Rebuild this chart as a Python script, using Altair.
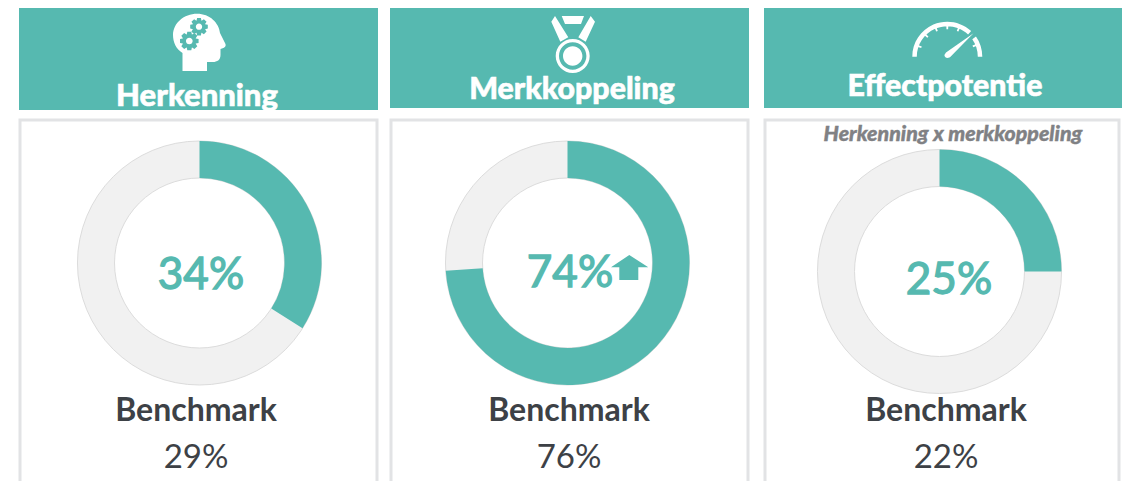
import math
import altair as alt
import pandas as pd

# ---- values ----
titles = ["Herkenning", "Merkkoppeling", "Effectpotentie"]
shares = [34, 74, 25]
share_labels = ["34%", "74%", "25%"]
benchmark_labels = ["29%", "76%", "22%"]
benchmark_word = "Benchmark"
note = "Herkenning x merkkoppeling"

# ---- styles / layout (screen pixels) ----
TEAL = "#56b9b0"
RING = "#f1f1f1"
RING_LINE = "#dcdcdc"
BORDER = "#e2e3e5"
DARK = "#3d4146"
GREY = "#808184"
FONT = "Lato"
M = 8
left = [19, 390, 764]
right = [378, 749, 1122]
card_right = [378, 749, 1120]
head_bottom = [110, 108, 108]
title_x = [197, 572, 945]
title_base = [106, 99, 96]
title_size = [31, 30.3, 30.3]
ring_x = [199.5, 567.5, 939.5]
ring_y = [263, 263, 271.5]
share_x = [201, 570, 949]
share_base = [289, 287, 294]
bench_x = [196, 569, 946]


def px(v):
    return alt.value(v - M)


def circ(cx, cy, r, sweep=1):
    return f"M{cx-r} {cy}A{r} {r} 0 1 {sweep} {cx+r} {cy}A{r} {r} 0 1 {sweep} {cx-r} {cy}Z"


def gear(cx, cy, ro, ri, n=8):
    pts = []
    step = 2 * math.pi / n
    for k in range(n):
        a = k * step
        for da, r in ((-0.30, ri), (-0.17, ro), (0.17, ro), (0.30, ri)):
            pts.append((cx + r * math.cos(a + da * step * 1.6), cy + r * math.sin(a + da * step * 1.6)))
    return "M" + "L".join(f"{x:.2f} {y:.2f}" for x, y in pts) + "Z" + circ(cx, cy, ri * 0.48, 0)


def band(cx, cy, ro, ri, a0, a1):
    p = lambda r, a: (cx + r * math.cos(math.radians(a)), cy - r * math.sin(math.radians(a)))
    x0, y0 = p(ro, a0); x1, y1 = p(ro, a1); x2, y2 = p(ri, a1); x3, y3 = p(ri, a0)
    return (f"M{x0:.2f} {y0:.2f}A{ro} {ro} 0 0 1 {x1:.2f} {y1:.2f}"
            f"L{x2:.2f} {y2:.2f}A{ri} {ri} 0 0 0 {x3:.2f} {y3:.2f}Z")


HEAD = ("M182.5 71L182.5 53C176 49 173 42 173 35C173 23 184 13.7 197 13.7C210 13.7 219 23 220 33"
        "L225.5 44Q226.5 47 222 48.5L220.5 49L220.5 55C220.5 60 217 62 213 62L207 62L207 71Z")
GEARS = gear(199, 26.7, 9, 6.6) + gear(189.3, 41, 9.5, 7)
MEDAL = ("M561.7 16L584 16L581 24L565 24Z"
         "M555 16L551.3 21.7L560.3 41.7L568.3 37.3L555 16Z"
         "M590.7 16L595 21.7L585.7 41.7L578.3 37.3Z"
         + circ(572.7, 56, 17) + circ(572.7, 56, 13.7, 0) + circ(572.7, 56, 9.7))
GAUGE = (band(947.3, 56.7, 35, 30.5, 180, 47) + band(947.3, 56.7, 35, 30.5, 35, 0)
         + "M973.5 33.3L950 57.3Q946 59 944.8 56.6Q944 54.6 946 52.6Z"
         + "".join(band(947.3, 56.7, 31, 27.5, a + 1.8, a - 1.8) for a in (160, 135, 112, 90, 68, 22)))
ARROW = "M629.3 255L648.3 267.3L638.3 267.3L638.3 280L619.3 280L619.3 267.3L611 267.3Z"

THETA = alt.Scale(domain=[0, 100], range=[0, 2 * math.pi])


def text_layer(label, x, y, size, color, weight="normal", style="normal", **kw):
    return (
        alt.Chart(pd.DataFrame({"t": [label]}))
        .mark_text(font=FONT, fontSize=size, fill=color, fontWeight=weight, fontStyle=style,
                   align="center", baseline="alphabetic", **kw)
        .encode(text="t:N", x=px(x), y=px(y))
    )


def box(x0, x1, y0, y1, **mark):
    return (
        alt.Chart(pd.DataFrame({"a": [0]}))
        .mark_rect(**mark)
        .encode(x=px(x0), x2=px(x1), y=px(y0), y2=px(y1))
    )


def icon(path, color="white"):
    return (
        alt.Chart(pd.DataFrame({"a": [0]}))
        .mark_point(shape=path, filled=True, fill=color, opacity=1, size=4, strokeWidth=0)
        .encode(x=alt.value(-M), y=alt.value(-M))
    )


layers = []
for i in range(3):
    # header: title is cut by the lower edge of the first band
    layers.append(box(left[i], right[i], 0, head_bottom[i], fill=TEAL))
    layers.append(text_layer(titles[i], title_x[i], title_base[i], title_size[i], "white", weight=900,
                             stroke="white", strokeWidth=0.6))
    layers.append(box(left[i] - 1, right[i] + 1, head_bottom[i], 117, fill="white"))
    # card
    layers.append(box(left[i] + 1, card_right[i] - 1, 120, 500, fill="white", stroke=BORDER, strokeWidth=3))
    # ring
    ring = pd.DataFrame({"start": [0], "end": [100]})
    fill = pd.DataFrame({"start": [0], "end": [shares[i]]})
    layers.append(
        alt.Chart(ring)
        .mark_arc(radius=122, radius2=85, fill=RING, stroke=RING_LINE, strokeWidth=1)
        .encode(theta=alt.Theta("start:Q", scale=THETA, stack=None), theta2="end:Q",
                x=px(ring_x[i]), y=px(ring_y[i]))
    )
    layers.append(
        alt.Chart(fill)
        .mark_arc(radius=122, radius2=85, fill=TEAL)
        .encode(theta=alt.Theta("start:Q", scale=THETA, stack=None), theta2="end:Q",
                x=px(ring_x[i]), y=px(ring_y[i]))
    )
    layers.append(text_layer(share_labels[i], share_x[i], share_base[i], 44, TEAL,
                             stroke=TEAL, strokeWidth=1.3))
    layers.append(text_layer(benchmark_word, bench_x[i], 421, 32, DARK, weight=700))
    layers.append(text_layer(benchmark_labels[i], bench_x[i], 468, 33, DARK))

layers.append(text_layer(note, 953, 141, 21.3, GREY, weight=900, style="italic",
                         stroke=GREY, strokeWidth=0.4))
layers += [icon(HEAD), icon(GEARS, TEAL), icon(MEDAL), icon(GAUGE), icon(ARROW, TEAL)]

chart = (
    alt.layer(*layers)
    .properties(width=1114, height=473, padding=0, background="white",
                autosize=alt.AutoSizeParams(type="none"))
    .configure_view(stroke="transparent")
)
chart.save("out.html", embed_options={"renderer": "svg", "actions": False})
